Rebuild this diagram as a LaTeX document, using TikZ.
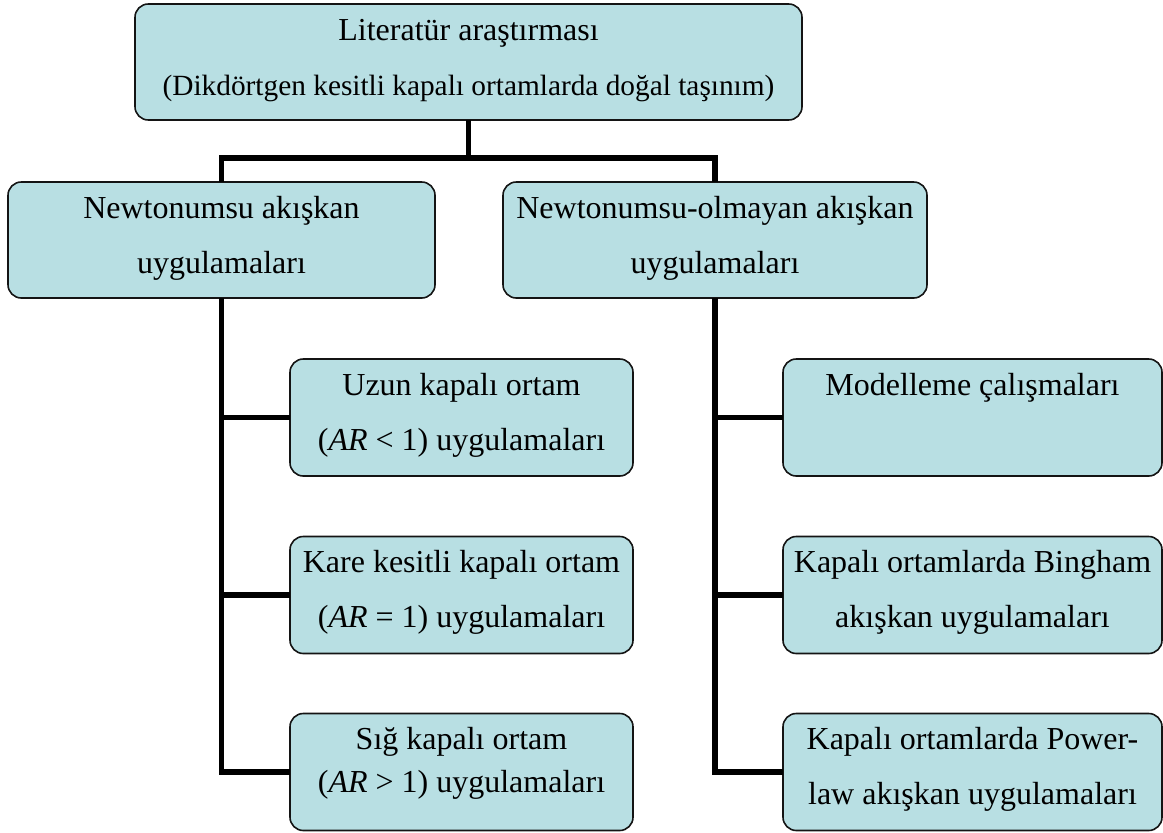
\documentclass[tikz,border=0pt]{standalone}
\usepackage{fontspec}
\setmainfont{Liberation Serif}
\usetikzlibrary{positioning}
\definecolor{kutufill}{RGB}{184,223,227}
\definecolor{kutuborder}{RGB}{20,20,20}
\definecolor{hatcol}{RGB}{0,0,0}
% top-aligned text block inside a box: height, width, lines
\newcommand{\kutuyazi}[3]{\parbox[c][#1][t]{#2}{\centering\rule{0pt}{27pt}#3}}

\begin{document}
\begin{tikzpicture}[
  x=0.75pt, y=-0.75pt,
  font=\fontsize{24}{41.25}\selectfont,
  kutu/.style={
    draw=kutuborder,
    fill=kutufill,
    rounded corners=10pt,
    line width=1.2pt,
    inner sep=0pt,
    outer sep=0pt
  },
  hat/.style={line width=3.8pt, color=hatcol}
]
\useasboundingbox (0,0) rectangle (1163,832);

% ========== Top ==========
\node[kutu] (lit) at (468.5,62)
  {\kutuyazi{87pt}{500.25pt}{Literatür araştırması\\\fontsize{22}{41.25}\selectfont(Dikdörtgen kesitli kapalı ortamlarda doğal taşınım)}};

% ========== Second level ==========
\node[kutu] (newt) at (221.5,240)
  {\kutuyazi{87pt}{320.25pt}{Newtonumsu akışkan\\uygulamaları}};
\node[kutu] (nonnewt) at (715,240)
  {\kutuyazi{87pt}{318pt}{Newtonumsu-olmayan akışkan\\uygulamaları}};

% ========== Newtonian applications (left) ==========
\node[kutu] (uzun) at (461.5,417.5)
  {\kutuyazi{87.75pt}{257.25pt}{Uzun kapalı ortam\\(\textit{AR} < 1) uygulamaları}};
\node[kutu] (kare) at (461.5,595)
  {\kutuyazi{87.75pt}{257.25pt}{Kare kesitli kapalı ortam\\(\textit{AR} = 1) uygulamaları}};
\node[kutu] (sig) at (461.5,772)
  {\kutuyazi{87.75pt}{257.25pt}{\fontsize{24}{32.25}\selectfont Sığ kapalı ortam\\(\textit{AR} > 1) uygulamaları}};

% ========== Non-Newtonian applications (right) ==========
\node[kutu] (model) at (972.5,417.5)
  {\kutuyazi{87.75pt}{284.25pt}{Modelleme çalışmaları}};
\node[kutu] (bing) at (972.5,595)
  {\kutuyazi{87.75pt}{284.25pt}{Kapalı ortamlarda Bingham\\akışkan uygulamaları}};
\node[kutu] (power) at (972.5,772)
  {\kutuyazi{87.75pt}{284.25pt}{Kapalı ortamlarda Power-\\law akışkan uygulamaları}};

% ========== Connectors ==========
\draw[hat] (lit.south) -- ++(0,38) -| (newt.north);
\draw[hat] (lit.south) -- ++(0,38) -| (nonnewt.north);

\draw[hat] (newt.south) |- (uzun.west);
\draw[hat] (newt.south) |- (kare.west);
\draw[hat] (newt.south) |- (sig.west);

\draw[hat] (nonnewt.south) |- (model.west);
\draw[hat] (nonnewt.south) |- (bing.west);
\draw[hat] (nonnewt.south) |- (power.west);

\end{tikzpicture}
\end{document}
